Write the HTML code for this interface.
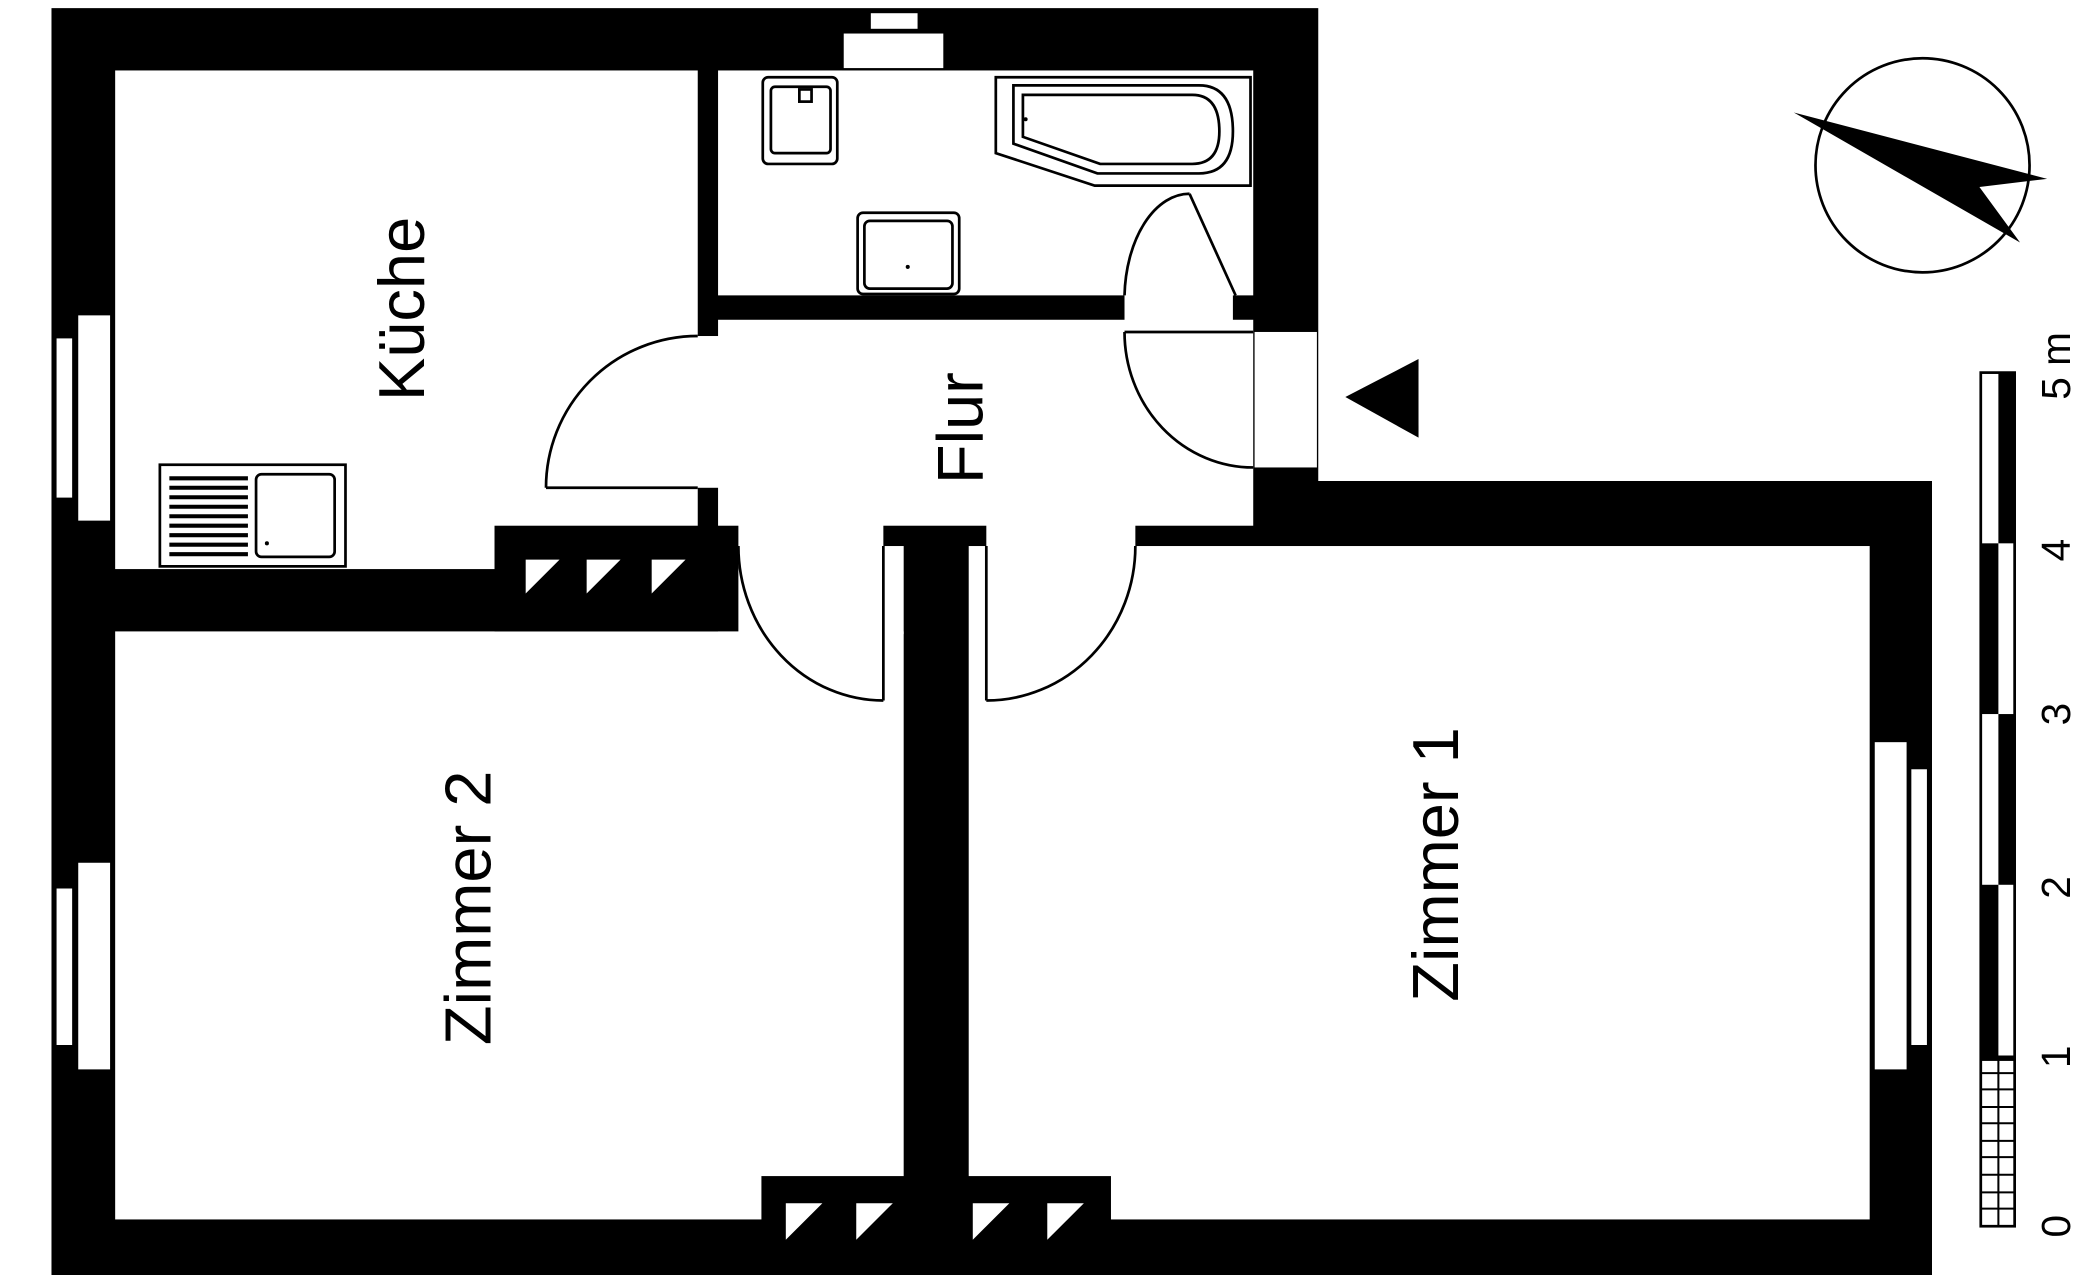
<!DOCTYPE html>
<html><head><meta charset="utf-8"><style>
html,body{margin:0;padding:0;background:#fff}
svg{display:block}
text{font-family:"Liberation Sans",sans-serif;fill:#000}
</style></head><body>
<svg width="2100" height="1275" viewBox="0 0 1550 941" preserveAspectRatio="none" xmlns="http://www.w3.org/2000/svg">
<rect width="1550" height="941" fill="#fff"/>
<polygon points="38,6 973,6 973,355 1426,355 1426,948 38,948" fill="#000"/>
<g fill="#fff">
<rect x="85" y="52" width="430" height="368"/>
<rect x="530" y="52" width="395" height="166"/>
<rect x="530" y="236" width="395" height="152"/>
<rect x="830" y="216" width="80" height="22"/>
<rect x="513" y="248" width="19" height="112"/>
<rect x="545" y="386" width="107" height="19"/>
<rect x="728" y="386" width="110" height="19"/>
<rect x="85" y="466" width="582" height="434"/>
<rect x="545" y="403" width="122" height="65"/>
<rect x="715" y="403" width="665" height="497"/>
<rect x="926" y="245" width="46" height="100"/>
</g>
<rect x="365" y="388" width="165" height="78" fill="#000"/>
<rect x="562" y="868" width="258" height="80" fill="#000"/>
<g fill="#fff">
<polygon points="388,413 413,413 388,438"/>
<polygon points="433,413 458,413 433,438"/>
<polygon points="481,413 506,413 481,438"/>
<polygon points="580,888 607,888 580,915"/>
<polygon points="632,888 659,888 632,915"/>
<polygon points="718,888 745,888 718,915"/>
<polygon points="773,888 800,888 773,915"/>
</g>
<g fill="#fff" stroke="#000" stroke-width="1.5">
<rect x="57" y="232" width="25" height="153"/>
<rect x="41" y="249" width="13" height="119"/>
<rect x="57" y="636" width="25" height="154"/>
<rect x="41" y="655" width="13" height="117"/>
<rect x="1383" y="547" width="25" height="243"/>
<rect x="1410" y="567" width="13" height="205"/>
<rect x="622" y="24" width="75" height="27"/>
<rect x="642" y="9" width="36" height="13"/>
</g>
<g fill="none" stroke="#000" stroke-width="2">
<path d="M403,360 H515 M403,360 A112,112 0 0 1 515,248"/>
<path d="M652,403 V517 M652,517 A107,114 0 0 1 545,403"/>
<path d="M728,403 V517 M728,517 A110,114 0 0 0 838,403"/>
<path d="M830,245 H925 M830,245 A95,100 0 0 0 925,345"/>
<path d="M878,143 L912,218 M830,218 A48,78 0 0 1 878,143"/>
</g>
<g fill="none" stroke="#000" stroke-width="2">
<rect x="563" y="57" width="55" height="64" rx="4"/>
<rect x="569" y="64" width="44" height="49" rx="3"/>
<rect x="590" y="66" width="9" height="9"/>
<rect x="633" y="157" width="75" height="60" rx="4"/>
<rect x="638" y="163" width="65" height="50" rx="4"/>
<polygon points="735,57 923,57 923,137 808,137 735,113"/>
<path d="M748,63 H885 Q910,63 910,97 Q910,128 885,128 H810 L748,106 Z"/>
<path d="M755,70 H880 Q900,70 900,97 Q900,121 880,121 H812 L755,101 Z"/>
<rect x="118" y="343" width="137" height="75"/>
<rect x="189" y="350" width="58" height="61" rx="4"/>
</g>
<circle cx="670" cy="197" r="1.5" fill="#000"/>
<circle cx="757" cy="88" r="1.5" fill="#000"/>
<circle cx="197" cy="401" r="1.5" fill="#000"/>
<g stroke="#000" stroke-width="3">
<line x1="125" y1="353" x2="183" y2="353"/><line x1="125" y1="360" x2="183" y2="360"/>
<line x1="125" y1="367" x2="183" y2="367"/><line x1="125" y1="374" x2="183" y2="374"/>
<line x1="125" y1="381" x2="183" y2="381"/><line x1="125" y1="388" x2="183" y2="388"/>
<line x1="125" y1="395" x2="183" y2="395"/><line x1="125" y1="402" x2="183" y2="402"/>
<line x1="125" y1="409" x2="183" y2="409"/>
</g>
<g font-size="48">
<text transform="translate(313,228) rotate(-90)" text-anchor="middle">Küche</text>
<text transform="translate(725,316) rotate(-90)" text-anchor="middle">Flur</text>
<text transform="translate(362,670) rotate(-90)" text-anchor="middle">Zimmer 2</text>
<text transform="translate(1076,638) rotate(-90)" text-anchor="middle">Zimmer 1</text>
</g>
<circle cx="1419" cy="122" r="79" fill="none" stroke="#000" stroke-width="2"/>
<polygon points="1324,83 1511,132 1461,138 1491,179" fill="#000"/>
<polygon points="993,293 1047,265 1047,323" fill="#000"/>
<rect x="1462" y="275" width="25" height="630" fill="#fff" stroke="#000" stroke-width="2"/>
<g fill="#000">
<rect x="1475" y="275" width="12" height="126"/>
<rect x="1462" y="401" width="13" height="126"/>
<rect x="1475" y="527" width="12" height="126"/>
<rect x="1462" y="653" width="13" height="126"/>
<rect x="1462" y="779" width="25" height="4"/>
</g>
<g stroke="#000" stroke-width="1.5">
<line x1="1475" y1="779" x2="1475" y2="905"/>
<line x1="1462" y1="792" x2="1487" y2="792"/><line x1="1462" y1="804" x2="1487" y2="804"/>
<line x1="1462" y1="817" x2="1487" y2="817"/><line x1="1462" y1="829" x2="1487" y2="829"/>
<line x1="1462" y1="842" x2="1487" y2="842"/><line x1="1462" y1="854" x2="1487" y2="854"/>
<line x1="1462" y1="867" x2="1487" y2="867"/><line x1="1462" y1="880" x2="1487" y2="880"/>
<line x1="1462" y1="892" x2="1487" y2="892"/>
</g>
<g font-size="30">
<text transform="translate(1528,270) rotate(-90)" text-anchor="middle">5 m</text>
<text transform="translate(1528,406) rotate(-90)" text-anchor="middle">4</text>
<text transform="translate(1528,527) rotate(-90)" text-anchor="middle">3</text>
<text transform="translate(1528,655) rotate(-90)" text-anchor="middle">2</text>
<text transform="translate(1528,780) rotate(-90)" text-anchor="middle">1</text>
<text transform="translate(1528,905) rotate(-90)" text-anchor="middle">0</text>
</g>
</svg>
</body></html>
